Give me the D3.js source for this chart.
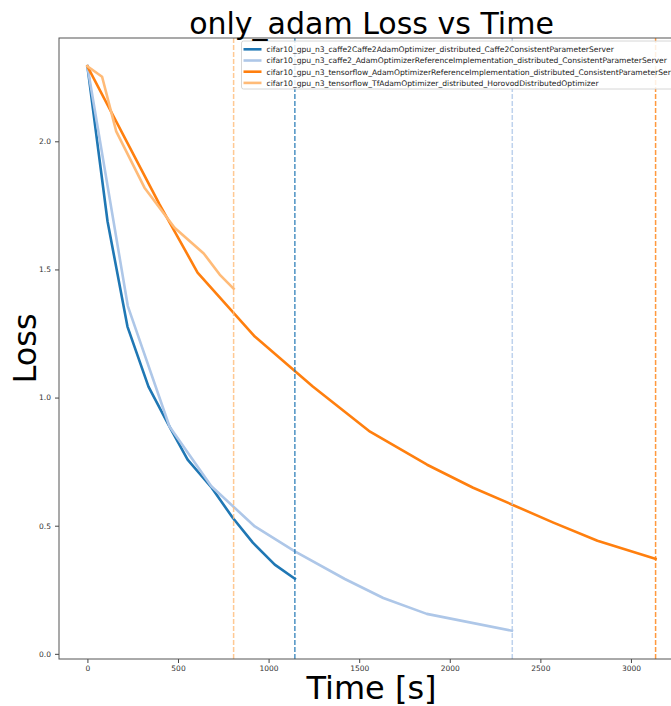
<!DOCTYPE html>
<html>
<head>
<meta charset="utf-8">
<script src="https://cdn.jsdelivr.net/npm/d3@7"></script>
<style>
  body { margin: 0; background: #fff; }
  svg { font-family: "DejaVu Sans", sans-serif; display: block; }
  .tick text { fill: #333; }
</style>
</head>
<body>
<div id="chart"></div>
<script>
// series labels (legend order)
var seriesNames = [
    'cifar10_gpu_n3_caffe2Caffe2AdamOptimizer_distributed_Caffe2ConsistentParameterServer',
    'cifar10_gpu_n3_caffe2_AdamOptimizerReferenceImplementation_distributed_ConsistentParameterServer',
    'cifar10_gpu_n3_tensorflow_AdamOptimizerReferenceImplementation_distributed_ConsistentParameterServer',
    'cifar10_gpu_n3_tensorflow_TfAdamOptimizer_distributed_HorovodDistributedOptimizer'
];
var seriesColors = ['#1f77b4', '#aec7e8', '#ff7f0e', '#ffbb78'];

// time [s] and loss for each series
var caffe2AdamTime = [0, 111, 221, 337, 453, 553, 686, 802, 913, 1034, 1145];
var caffe2AdamLoss = [2.293, 1.688, 1.277, 1.043, 0.887, 0.758, 0.648, 0.531, 0.434, 0.348, 0.293];

var caffe2RefTime = [0, 223, 453, 684, 924, 1145, 1421, 1633, 1873, 2343];
var caffe2RefLoss = [2.293, 1.357, 0.887, 0.654, 0.497, 0.400, 0.292, 0.218, 0.156, 0.090];

var tfRefTime = [0, 398, 608, 924, 1244, 1560, 1875, 2129, 2345, 2572, 2815, 3136];
var tfRefLoss = [2.293, 1.754, 1.488, 1.238, 1.043, 0.867, 0.738, 0.648, 0.582, 0.512, 0.441, 0.371];

var tfHorovodTime = [0, 81, 159, 315, 481, 642, 730, 807];
var tfHorovodLoss = [2.293, 2.252, 2.039, 1.819, 1.663, 1.5625, 1.480, 1.425];

// end time of each run (dashed markers)
var endTimes = [1145, 2345, 3136, 807];

var xTicks = [0, 500, 1000, 1500, 2000, 2500, 3000];
var yTicks = [0.0, 0.5, 1.0, 1.5, 2.0];

var seriesTimes = [caffe2AdamTime, caffe2RefTime, tfRefTime, tfHorovodTime];
var seriesLosses = [caffe2AdamLoss, caffe2RefLoss, tfRefLoss, tfHorovodLoss];

var W = 671, H = 706;
var margin = {top: 38, left: 59, right: 684, bottom: 659};

var svg = d3.select('#chart').append('svg')
    .attr('width', W)
    .attr('height', H);

// matplotlib style 5% margins
var xMax = 3136, yMin = 0.090, yMax = 2.293;
var x = d3.scaleLinear()
    .domain([-0.05 * xMax, xMax * 1.05])
    .range([margin.left, margin.right]);
var y = d3.scaleLinear()
    .domain([yMin - 0.05 * (yMax - yMin), yMax + 0.05 * (yMax - yMin)])
    .range([margin.bottom, margin.top]);

svg.append('defs').append('clipPath').attr('id', 'clip')
    .append('rect')
    .attr('x', margin.left).attr('y', margin.top)
    .attr('width', margin.right - margin.left)
    .attr('height', margin.bottom - margin.top);

var plot = svg.append('g').attr('clip-path', 'url(#clip)');

var line = d3.line()
    .x(function(d) { return x(d[0]); })
    .y(function(d) { return y(d[1]); });

seriesNames.forEach(function(name, i) {
    var pts = seriesTimes[i].map(function(t, j) { return [t, seriesLosses[i][j]]; });
    plot.append('path')
        .datum(pts)
        .attr('d', line)
        .attr('fill', 'none')
        .attr('stroke', seriesColors[i])
        .attr('stroke-width', 2.6)
        .attr('stroke-linejoin', 'round')
        .attr('stroke-linecap', 'square');
});

// dashed end markers
endTimes.forEach(function(t, i) {
    plot.append('line')
        .attr('x1', x(t)).attr('x2', x(t))
        .attr('y1', margin.top).attr('y2', margin.bottom)
        .attr('stroke', seriesColors[i])
        .attr('stroke-opacity', 0.8)
        .attr('stroke-width', 1.5)
        .attr('stroke-dasharray', '5,2');
});

// axes
var xAxis = d3.axisBottom(x).tickValues(xTicks).tickSize(4).tickPadding(3)
    .tickFormat(d3.format('d'));
var yAxis = d3.axisLeft(y).tickValues(yTicks).tickSize(4).tickPadding(4)
    .tickFormat(d3.format('.1f'));

var gx = svg.append('g')
    .attr('transform', 'translate(0,' + margin.bottom + ')')
    .call(xAxis);
var gy = svg.append('g')
    .attr('transform', 'translate(' + margin.left + ',0)')
    .call(yAxis);
[gx, gy].forEach(function(g) {
    g.select('.domain').remove();
    g.selectAll('.tick line').attr('stroke', '#444');
    g.selectAll('.tick text').style('font-size', '7.5px')
        .style('font-family', '"DejaVu Sans", sans-serif');
});

// spines
svg.append('rect')
    .attr('x', margin.left).attr('y', margin.top)
    .attr('width', margin.right - margin.left)
    .attr('height', margin.bottom - margin.top)
    .attr('fill', 'none')
    .attr('stroke', '#555')
    .attr('stroke-width', 1);

// legend (runs off the right edge like the original)
var legend = svg.append('g').attr('transform', 'translate(241.5,41)');
legend.append('rect')
    .attr('x', 0).attr('y', 0)
    .attr('width', 460).attr('height', 48)
    .attr('rx', 2)
    .attr('fill', '#fff').attr('fill-opacity', 0.85)
    .attr('stroke', '#ccc').attr('stroke-width', 0.8);
seriesNames.forEach(function(name, i) {
    var row = legend.append('g').attr('transform', 'translate(0,' + (8.3 + i * 11.2) + ')');
    row.append('line')
        .attr('x1', 2).attr('x2', 20)
        .attr('stroke', seriesColors[i]).attr('stroke-width', 2.6);
    row.append('text')
        .attr('x', 25).attr('y', 2.8)
        .style('font-size', '7.6px')
        .attr('fill', '#222')
        .text(name);
});

// titles
svg.append('text')
    .attr('x', (margin.left + margin.right) / 2)
    .attr('y', 34)
    .attr('text-anchor', 'middle')
    .style('font-size', '30px')
    .text('only_adam Loss vs Time');

svg.append('text')
    .attr('x', (margin.left + margin.right) / 2)
    .attr('y', 699)
    .attr('text-anchor', 'middle')
    .style('font-size', '32px')
    .text('Time [s]');

svg.append('text')
    .attr('transform', 'translate(36,' + ((margin.top + margin.bottom) / 2) + ') rotate(-90)')
    .attr('text-anchor', 'middle')
    .style('font-size', '32px')
    .text('Loss');
</script>
</body>
</html>
